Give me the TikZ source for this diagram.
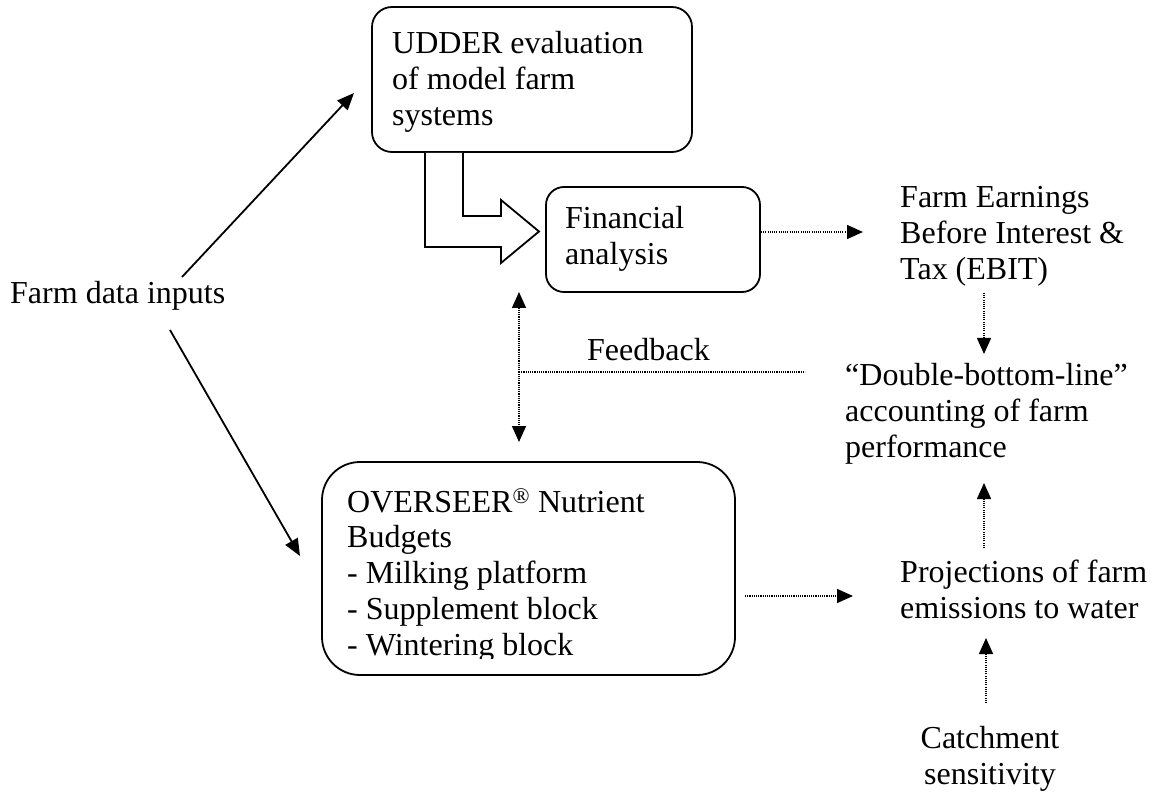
\documentclass[tikz,border=0pt]{standalone}
\usepackage{fontspec}
\setmainfont{Liberation Serif}
\usetikzlibrary{arrows.meta}
\tikzset{
  rbox/.style={draw, line width=1.8pt, inner sep=0pt},
  txt/.style={anchor=north west, inner sep=0pt, align=left, font=\fontsize{32}{36}\selectfont},
  ctxt/.style={anchor=north, inner sep=0pt, align=center, font=\fontsize{32}{36}\selectfont},
  solidarrow/.style={line width=1.8pt, -{Triangle[length=17pt,width=14pt]}},
  dotarrow/.style={line width=1.5pt, dash pattern=on 1.1pt off 1.1pt, -{Triangle[length=16pt,width=14pt]}},
  dotline/.style={line width=1.5pt, dash pattern=on 1.1pt off 1.1pt},
  dotboth/.style={line width=1.5pt, dash pattern=on 1.1pt off 1.1pt, {Triangle[length=16pt,width=14pt]}-{Triangle[length=16pt,width=14pt]}},
}
\newcommand{\topstrut}{\rule{0pt}{25pt}}
\begin{document}
\begin{tikzpicture}[x=1pt, y=-1pt]
\useasboundingbox (0,0) rectangle (1157,794);

% boxes
\node[rbox, rounded corners=20pt, minimum width=320pt, minimum height=145pt] (udder) at (532,79.5) {};
\node[rbox, rounded corners=18pt, minimum width=214pt, minimum height=105pt] (fin) at (653,239.5) {};
\node[rbox, rounded corners=38pt, minimum width=413pt, minimum height=213pt] (over) at (528.5,568.5) {};

% texts
\node[txt] (uddertxt) at (392,28) {\topstrut UDDER evaluation\\of model farm\\systems};
\node[txt] (fintxt) at (565,203) {\topstrut Financial\\analysis};
\begin{scope}
  \clip (330,470) rectangle (730,658);
  \node[txt, font=\fontsize{32}{35.7}\selectfont] (overtxt) at (347,487) {\topstrut OVERSEER\textsuperscript{®} Nutrient\\Budgets\\- Milking platform\\- Supplement block\\- Wintering block};
\end{scope}
\node[txt] (inputs) at (10,278) {\topstrut Farm data inputs};
\node[txt] (ebit) at (900,182) {\topstrut Farm Earnings\\Before Interest \&\\Tax (EBIT)};
\node[txt] (dbl) at (845,360) {\topstrut “Double-bottom-line”\\accounting of farm\\performance};
\node[txt] (proj) at (900,557) {\topstrut Projections of farm\\emissions to water};
\node[ctxt] (catch) at (990,723) {\topstrut Catchment\\sensitivity};
\node[txt] (fb) at (587,335) {\topstrut Feedback};

% block arrow from UDDER to Financial analysis
\draw[line width=1.8pt, fill=white, line join=miter]
  (udder.south -| 463,0) -- (463,216) -- (501,216) -- (501,200) -- (539,231.5)
  -- (501,263) -- (501,247) -- (425,247) -- (udder.south -| 425,0);

% coordinates for connector ends
\coordinate (in1s) at (182,277);
\coordinate (in1e) at (354,93);
\coordinate (in2s) at (170,330);
\coordinate (in2e) at (300,556);
\coordinate (fbtop) at (519,292);
\coordinate (fbbot) at (519,442);
\coordinate (fbmid) at (519,372);
\coordinate (fbend) at (805,372);

% connectors
\draw[solidarrow] (in1s) -- (in1e);
\draw[solidarrow] (in2s) -- (in2e);
\draw[dotarrow] (fin.east |- 0,232) -- (863,232);
\draw[dotarrow] (984,293) -- (984,354);
\draw[dotarrow] (984,548) -- (984,483);
\draw[dotarrow] (745,596) -- (853,596);
\draw[dotarrow] (986,703) -- (986,638);
\draw[dotboth] (fbtop) -- (fbbot);
\draw[dotline] (fbmid) -- (fbend);
\end{tikzpicture}
\end{document}
